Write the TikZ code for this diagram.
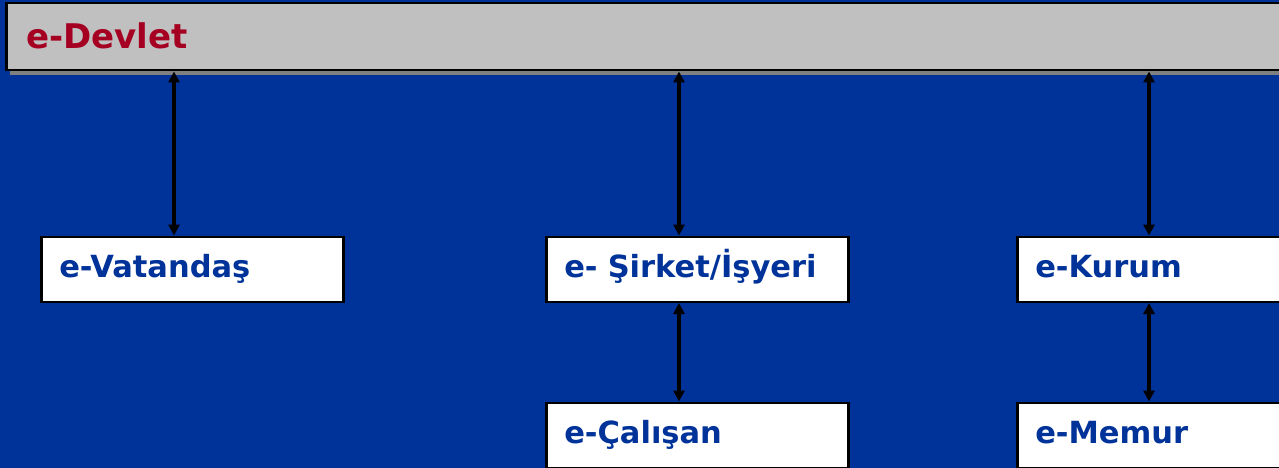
\documentclass[tikz,border=0pt]{standalone}
\usepackage{fontspec}
\setmainfont{DejaVu Sans}
\usetikzlibrary{arrows.meta}
\definecolor{bgblue}{HTML}{003399}
\definecolor{barfill}{HTML}{C0C0C0}
\definecolor{shadowgray}{HTML}{808080}
\definecolor{titlered}{HTML}{A50021}
\tikzset{
  box/.style={draw=black, line width=2.5pt, fill=white, rectangle, anchor=north west,
    minimum width=302pt, minimum height=65pt, inner xsep=18pt, inner ysep=0pt,
    text width=266pt, align=left, text height=23pt, text depth=7pt,
    font=\bfseries\fontsize{30.5}{34}\selectfont, text=bgblue},
  arr/.style={{Triangle[width=11pt,length=11pt]}-{Triangle[width=11pt,length=11pt]}, line width=3.5pt, black}
}
\begin{document}
\begin{tikzpicture}[x=1pt,y=-1pt]
\useasboundingbox (0,0) rectangle (1279,468);
\clip (0,0) rectangle (1279,468);
\fill[bgblue] (0,0) rectangle (1279,468);
% shadow of bar
\fill[shadowgray] (10,69) rectangle (1300,75);
\node[draw=black, line width=2.5pt, fill=barfill, rectangle, anchor=north west,
  minimum width=1300pt, minimum height=67pt, inner sep=0pt] (bar) at (5,2) {};
\node[anchor=base west, inner sep=0pt, text=titlered, font=\bfseries\fontsize{34}{38}\selectfont] (title) at (26,49) {e-Devlet};
\node[box] (vat) at (40,235.5) {e-Vatandaş};
\node[box] (sir) at (545,235.5) {e- Şirket/İşyeri};
\node[box] (kur) at (1016,235.5) {e-Kurum};
\node[box] (cal) at (545,401.5) {e-Çalışan};
\node[box] (mem) at (1016,401.5) {e-Memur};
\coordinate (a1) at ([xshift=134pt]vat.north west);
\coordinate (a2) at ([xshift=134pt]sir.north west);
\coordinate (a3) at ([xshift=133pt]kur.north west);
\coordinate (b2) at ([xshift=134pt]cal.north west);
\coordinate (b3) at ([xshift=133pt]mem.north west);
\draw[arr] (a1 |- bar.south) -- (a1);
\draw[arr] (a2 |- bar.south) -- (a2);
\draw[arr] (a3 |- bar.south) -- (a3);
\draw[arr] (b2 |- sir.south) -- (b2);
\draw[arr] (b3 |- kur.south) -- (b3);
\end{tikzpicture}
\end{document}
